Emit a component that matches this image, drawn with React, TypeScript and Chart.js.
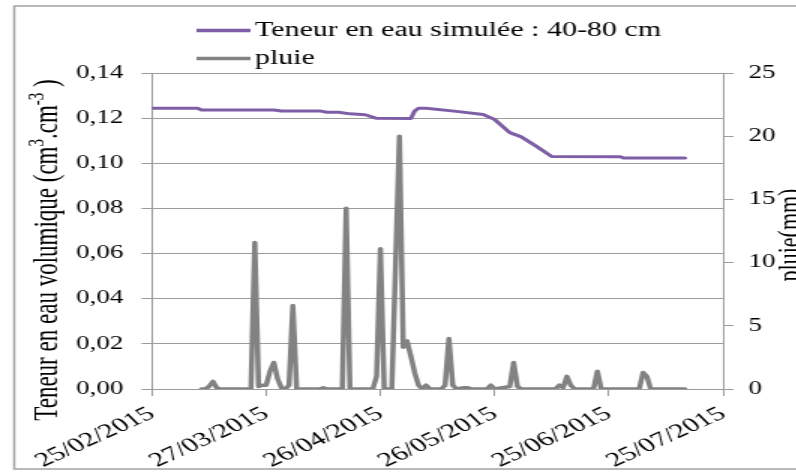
import { useEffect, useRef } from 'react';
import { Chart, registerables } from 'chart.js';

Chart.register(...registerables);

// ---- data ----
const xTickLabels = ['25/02/2015', '27/03/2015', '26/04/2015', '26/05/2015', '25/06/2015', '25/07/2015'];
const xStepDays = 30;

// days counted from 25/02/2015
const moistureDays = [0, 12, 13, 32, 34, 44, 46, 49, 52, 56, 59, 68, 69, 70, 72, 80, 87, 90, 94, 97, 101, 105, 123, 124, 140];
const moistureValues = [0.1244, 0.1244, 0.1236, 0.1236, 0.1232, 0.1232, 0.1226, 0.1226, 0.1219, 0.1215, 0.1199, 0.1198, 0.1232, 0.1244, 0.1244, 0.123, 0.1216, 0.1194, 0.1136, 0.1117, 0.1075, 0.103, 0.1029, 0.1023, 0.1023];

const rainDays = [13, 14, 15, 16, 17, 18, 26, 27, 28, 29, 30, 31, 32, 33, 34, 35, 36, 37, 38, 44, 45, 46, 50, 51, 52, 58, 59, 60, 61, 63, 64, 65, 66, 67, 68, 69, 70, 71, 72, 73, 76, 77, 78, 79, 80, 82, 83, 84, 88, 89, 90, 94, 95, 96, 97, 106, 107, 108, 109, 110, 111, 116, 117, 118, 128, 129, 130, 131, 140];
const rainValues = [0, 0, 0.2, 0.6, 0.1, 0, 0, 11.6, 0.2, 0.3, 0.3, 1.4, 2.1, 0.8, 0.1, 0, 0.3, 6.6, 0, 0, 0.1, 0, 0, 14.3, 0, 0, 1.0, 11.1, 0, 0, 10, 20, 3.3, 3.8, 2.6, 1.3, 0.3, 0, 0.3, 0, 0, 0.3, 4.0, 0.3, 0, 0.1, 0.1, 0, 0, 0.3, 0, 0.2, 2.1, 0.2, 0, 0, 0.3, 0.1, 1.0, 0.3, 0, 0, 1.4, 0, 0, 1.3, 1.0, 0, 0];

const moistureLabel = 'Teneur en eau simulée : 40-80 cm';
const rainLabel = 'pluie';
const leftTitleParts = [
  { text: 'Teneur en eau volumique (cm', sup: false },
  { text: '3', sup: true },
  { text: '.cm', sup: false },
  { text: '-3', sup: true },
  { text: ' )', sup: false },
];
const rightTitleParts = [{ text: 'pluie(mm)', sup: false }];

// ---- styling ----
const STRETCH = 1.5;
const CANVAS_W = 540;
const CANVAS_H = 472;
const SERIF = '"Liberation Serif", "Times New Roman", serif';
const GRID = '#9c9c9c';
const PURPLE = '#7e5ea6';
const GRAY = '#828282';

function drawVertical(ctx: CanvasRenderingContext2D, parts: { text: string; sup: boolean }[], baseX: number, cy: number, size: number) {
  const supSize = Math.round(size * 0.65);
  ctx.save();
  ctx.translate(baseX, cy);
  ctx.rotate(-Math.PI / 2);
  ctx.fillStyle = '#000';
  ctx.textBaseline = 'alphabetic';
  ctx.textAlign = 'left';
  const widths = parts.map((p) => {
    ctx.font = `${p.sup ? supSize : size}px ${SERIF}`;
    return ctx.measureText(p.text).width;
  });
  const total = widths.reduce((a, b) => a + b, 0);
  let x = -total / 2;
  parts.forEach((p, i) => {
    ctx.font = `${p.sup ? supSize : size}px ${SERIF}`;
    ctx.fillText(p.text, x, p.sup ? -size * 0.38 : 0);
    x += widths[i];
  });
  ctx.restore();
}

const decorPlugin = {
  id: 'decor',
  beforeDraw(chart: any) {
    const { ctx, width, height } = chart;
    ctx.save();
    ctx.fillStyle = '#fff';
    ctx.fillRect(0, 0, width, height);
    ctx.strokeStyle = '#a3a3a3';
    ctx.lineWidth = 1.5;
    ctx.strokeRect(9.5, 6, width + 20, 463);
    ctx.restore();
  },
  afterDraw(chart: any) {
    const { ctx, chartArea } = chart;
    ctx.save();
    chart.data.datasets.forEach((ds: any, i: number) => {
      const y = 30.5 + i * 28;
      ctx.strokeStyle = ds.borderColor;
      ctx.lineWidth = 3.5;
      ctx.lineCap = 'butt';
      ctx.beginPath();
      ctx.moveTo(131, y);
      ctx.lineTo(167, y);
      ctx.stroke();
      ctx.fillStyle = '#000';
      ctx.font = `20px ${SERIF}`;
      ctx.textBaseline = 'middle';
      ctx.textAlign = 'left';
      ctx.fillText(ds.label, 170, y);
    });
    const mid = (chartArea.top + chartArea.bottom) / 2;
    drawVertical(ctx, leftTitleParts, 38, mid + 19, 23);
    drawVertical(ctx, rightTitleParts, 533, mid + 4, 22);
    ctx.restore();
  },
};

export default function App() {
  const canvasRef = useRef<HTMLCanvasElement | null>(null);

  useEffect(() => {
    const canvas = canvasRef.current;
    if (!canvas) return;
    const tickFont = { family: SERIF, size: 18 };
    const chart = new Chart(canvas, {
      type: 'line',
      data: {
        datasets: [
          {
            label: moistureLabel,
            data: moistureDays.map((d, i) => ({ x: d, y: moistureValues[i] })),
            yAxisID: 'y',
            borderColor: PURPLE,
            borderWidth: 3,
            pointRadius: 0,
            tension: 0,
            borderJoinStyle: 'round',
            borderCapStyle: 'round',
          },
          {
            label: rainLabel,
            data: rainDays.map((d, i) => ({ x: d, y: rainValues[i] })),
            yAxisID: 'y1',
            borderColor: GRAY,
            borderWidth: 3.5,
            pointRadius: 0,
            tension: 0,
            borderJoinStyle: 'round',
            borderCapStyle: 'round',
          },
        ],
      },
      options: {
        responsive: false,
        devicePixelRatio: 1,
        animation: false,
        layout: { padding: { top: 73, left: 0, right: 0, bottom: 0 } },
        plugins: { legend: { display: false }, tooltip: { enabled: false } },
        scales: {
          x: {
            type: 'linear',
            position: 'bottom',
            min: 0,
            max: xStepDays * (xTickLabels.length - 1),
            ticks: {
              stepSize: xStepDays,
              autoSkip: false,
              minRotation: 34,
              maxRotation: 34,
              padding: 6,
              color: '#000',
              font: { family: SERIF, size: 20 },
              callback: (v: any) => xTickLabels[Math.round(Number(v) / xStepDays)] ?? '',
            },
            grid: { drawOnChartArea: false, drawTicks: true, tickLength: 7, color: GRID },
            border: { color: GRID },
            afterFit: (s: any) => {
              s.height = 83;
            },
          },
          y: {
            position: 'left',
            min: 0,
            max: 0.14,
            ticks: {
              stepSize: 0.02,
              padding: 12,
              color: '#000',
              font: tickFont,
              callback: (v: any) => Number(v).toFixed(2).replace('.', ','),
            },
            grid: { color: GRID, tickLength: 7 },
            border: { color: GRID },
            afterFit: (s: any) => {
              s.width = 101.33;
            },
          },
          y1: {
            position: 'right',
            min: 0,
            max: 25,
            ticks: { stepSize: 5, padding: 10, color: '#000', font: tickFont },
            grid: { drawOnChartArea: false, tickLength: 7, color: GRID },
            border: { color: GRID },
            afterFit: (s: any) => {
              s.width = CANVAS_W - 482;
            },
          },
        },
      },
      plugins: [decorPlugin],
    } as any);
    return () => chart.destroy();
  }, []);

  return (
    <div style={{ position: 'fixed', left: 0, top: 0, width: 796, height: 472, overflow: 'hidden', background: '#fff' }}>
      <canvas
        ref={canvasRef}
        width={CANVAS_W}
        height={CANVAS_H}
        style={{
          position: 'absolute',
          left: 0,
          top: 0,
          width: CANVAS_W,
          height: CANVAS_H,
          transform: `scaleX(${STRETCH})`,
          transformOrigin: '0 0',
        }}
      />
    </div>
  );
}
